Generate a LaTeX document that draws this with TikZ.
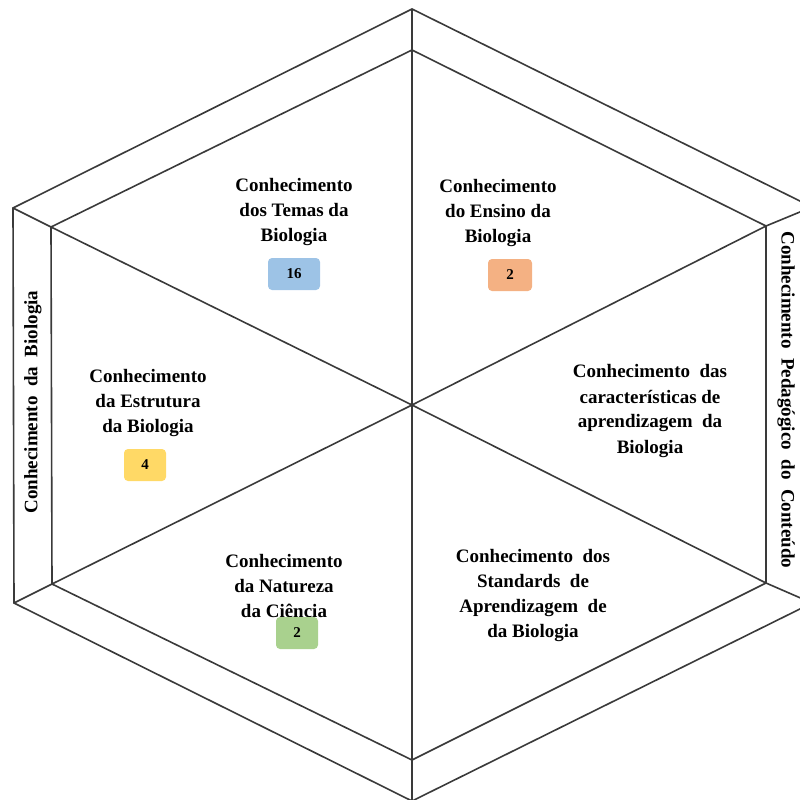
\documentclass[tikz,border=0pt]{standalone}
\usepackage{fontspec}
\setmainfont{Liberation Serif}
\newfontfamily\tnrb{Liberation Serif Bold}
\definecolor{lin}{HTML}{3A3A3A}
\definecolor{cblue}{HTML}{9DC3E6}
\definecolor{corange}{HTML}{F4B183}
\definecolor{cyellow}{HTML}{FFD966}
\definecolor{cgreen}{HTML}{A9D18E}
\tikzset{
  edge/.style={draw=lin, line width=1.6pt, line join=miter},
  lbl/.style={align=center, font=\tnrb\fontsize{19}{25}\selectfont, inner sep=0pt},
  side/.style={font=\tnrb\fontsize{19}{22}\selectfont, inner sep=0pt},
  badge/.style={rounded corners=4pt, minimum height=32pt, inner sep=0pt, font=\tnrb\fontsize{15}{18}\selectfont},
}
\begin{document}
\begin{tikzpicture}[x=1pt,y=-1pt]
\useasboundingbox (0,0) rectangle (800,800);
\clip (0,0) rectangle (800,800);
% outer vertices
\coordinate (T) at (412,9);
\coordinate (UR) at (812,207);
\coordinate (LR) at (812,603);
\coordinate (B) at (412,801);
\coordinate (LL) at (14,603);
\coordinate (UL) at (13,208);
% inner vertices
\coordinate (t) at (412,50);
\coordinate (ur) at (766,226);
\coordinate (lr) at (766,583);
\coordinate (b) at (412,760);
\coordinate (ll) at (52,584);
\coordinate (ul) at (51,227);
\coordinate (c) at (412,405);
\draw[edge] (T) -- (UR) -- (LR) -- (B) -- (LL) -- (UL) -- cycle;
\draw[edge] (t) -- (ur) -- (lr) -- (b) -- (ll) -- (ul) -- cycle;
\foreach \o/\i in {T/t, UR/ur, LR/lr, B/b, LL/ll, UL/ul} {
  \draw[edge] (\o) -- (\i);
  \draw[edge] (c) -- (\i);
}
% labels
\node[lbl] (temas) at (294,212) {Conhecimento\\dos Temas da\\Biologia};
\node[badge, fill=cblue, minimum width=52pt] (n16) at (294,274) {16};
\node[lbl] (ensino) at (498,213) {Conhecimento\\do Ensino da\\Biologia};
\node[badge, fill=corange, minimum width=44pt] (n2a) at (510,275) {2};
\node[lbl] (estrutura) at (148,403) {Conhecimento\\da Estrutura\\da Biologia};
\node[badge, fill=cyellow, minimum width=42pt] (n4) at (145,465) {4};
\node[lbl] (caract) at (650,411) {Conhecimento\ \ das\\características de\\aprendizagem\ \ da\\Biologia};
\node[lbl] (natureza) at (284,586) {Conhecimento\\da Natureza\\da Ciência};
\node[badge, fill=cgreen, minimum width=42pt] (n2b) at (297,633) {2};
\node[lbl] (standards) at (533,595) {Conhecimento\ \ dos\\Standards\ \ de\\Aprendizagem\ \ de\\da Biologia};
\node[side, rotate=90] (bio) at (33,402) {Conhecimento\ \ da\ \ Biologia};
\node[side, rotate=-90] (ped) at (786,400) {Conhecimento\ \ Pedagógico\ \ do\ \ Conteúdo};
\end{tikzpicture}
\end{document}
